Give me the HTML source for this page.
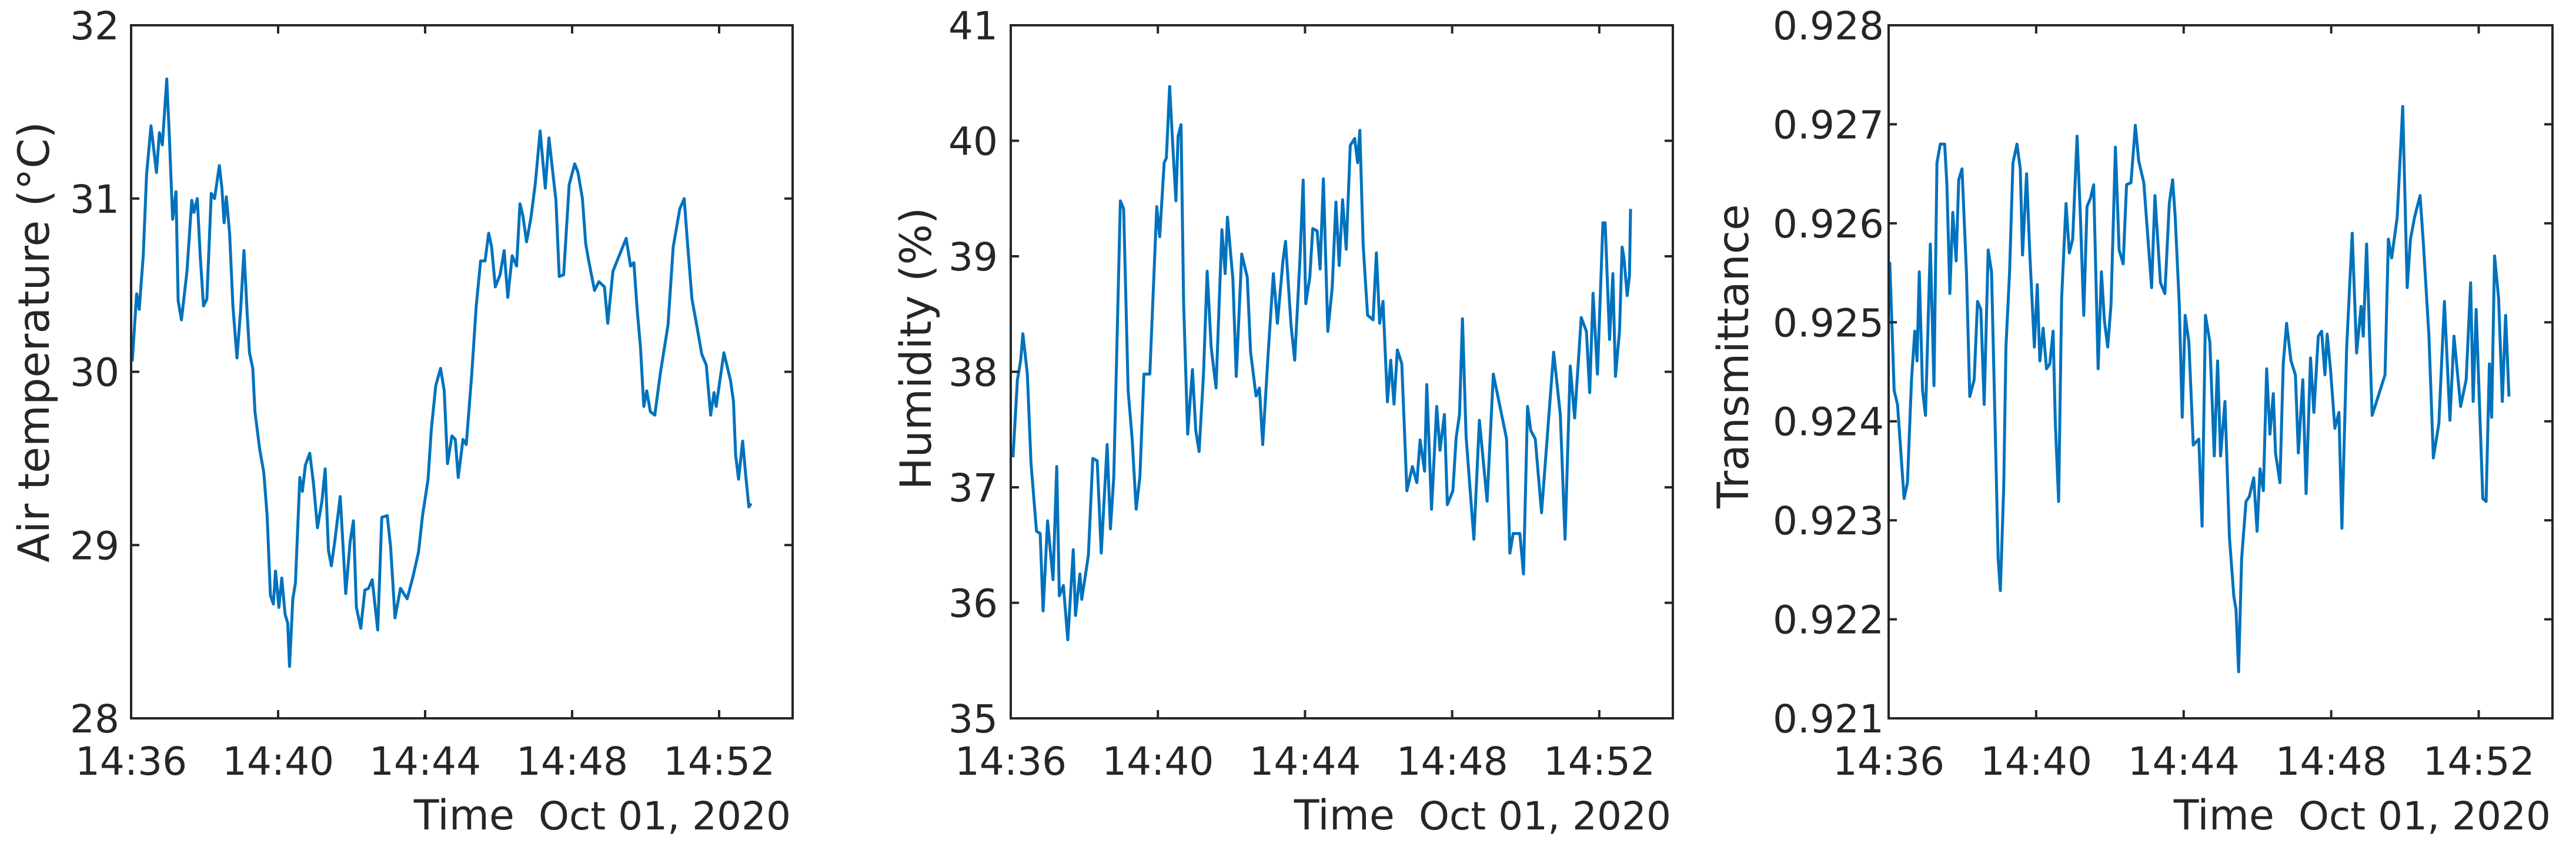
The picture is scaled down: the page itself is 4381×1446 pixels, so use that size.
<!DOCTYPE html>
<html><head><meta charset="utf-8"><style>
html,body{margin:0;padding:0;background:#fff;}
svg{display:block;font-family:"DejaVu Sans","Liberation Sans",sans-serif;}
</style></head><body>
<svg id="chart" width="4381" height="1446" viewBox="0 0 4381 1446" xmlns="http://www.w3.org/2000/svg"></svg>
<script>
// ---- Data (time in minutes after 14:36, values) ----
const xTickLabels = ["14:36","14:40","14:44","14:48","14:52"];
const xTickMinutes = [0,4,8,12,16];

const tempTicks = [28,29,30,31,32];
const tempT = [0.03,0.15,0.22,0.33,0.42,0.54,0.69,0.77,0.85,0.97,1.04,1.13,1.22,1.28,1.37,1.52,1.65,1.71,1.80,1.88,1.97,2.06,2.18,2.27,2.40,2.47,2.53,2.59,2.68,2.77,2.88,2.98,3.07,3.16,3.22,3.31,3.37,3.50,3.61,3.70,3.79,3.87,3.93,4.02,4.10,4.19,4.26,4.31,4.40,4.47,4.59,4.66,4.74,4.86,4.96,5.07,5.19,5.28,5.37,5.45,5.54,5.69,5.84,5.96,6.05,6.13,6.25,6.36,6.46,6.56,6.71,6.82,6.97,7.06,7.18,7.33,7.51,7.66,7.82,7.93,8.08,8.17,8.29,8.42,8.52,8.61,8.73,8.82,8.90,9.03,9.12,9.27,9.39,9.51,9.63,9.73,9.81,9.91,10.04,10.15,10.25,10.37,10.49,10.58,10.66,10.76,10.88,11.00,11.13,11.21,11.27,11.37,11.48,11.56,11.65,11.77,11.92,12.07,12.16,12.28,12.37,12.46,12.61,12.73,12.88,12.97,13.11,13.47,13.59,13.68,13.77,13.86,13.95,14.03,14.13,14.25,14.40,14.61,14.75,14.93,15.05,15.14,15.26,15.38,15.53,15.65,15.77,15.86,15.92,16.13,16.31,16.39,16.45,16.53,16.64,16.73,16.81,16.87];
const tempV = [30.06,30.45,30.36,30.67,31.14,31.42,31.15,31.38,31.31,31.69,31.36,30.88,31.04,30.41,30.30,30.58,30.99,30.92,31.00,30.67,30.38,30.42,31.03,31.00,31.19,31.06,30.86,31.01,30.80,30.38,30.08,30.36,30.70,30.33,30.11,30.02,29.77,29.55,29.42,29.17,28.71,28.66,28.85,28.64,28.81,28.60,28.55,28.30,28.69,28.78,29.39,29.31,29.46,29.53,29.36,29.10,29.25,29.44,28.97,28.88,29.02,29.28,28.72,29.02,29.14,28.64,28.52,28.74,28.75,28.80,28.51,29.16,29.17,28.99,28.58,28.75,28.69,28.81,28.96,29.17,29.38,29.67,29.92,30.02,29.89,29.47,29.63,29.61,29.39,29.61,29.58,29.99,30.38,30.64,30.64,30.80,30.72,30.49,30.56,30.70,30.43,30.67,30.61,30.97,30.90,30.75,30.89,31.09,31.39,31.20,31.06,31.35,31.14,30.99,30.55,30.56,31.08,31.20,31.15,31.00,30.74,30.63,30.47,30.52,30.49,30.28,30.58,30.77,30.61,30.63,30.36,30.14,29.80,29.89,29.77,29.75,29.99,30.27,30.72,30.94,31.00,30.74,30.42,30.28,30.10,30.04,29.75,29.88,29.80,30.11,29.95,29.83,29.52,29.38,29.60,29.39,29.22,29.24];

const humTicks = [35,36,37,38,39,40,41];
const humT = [0.06,0.18,0.27,0.33,0.45,0.55,0.70,0.80,0.88,1.00,1.15,1.25,1.32,1.43,1.55,1.70,1.76,1.88,1.93,2.11,2.23,2.35,2.46,2.62,2.71,2.80,2.98,3.07,3.19,3.30,3.41,3.51,3.62,3.78,3.97,4.05,4.17,4.23,4.32,4.40,4.49,4.55,4.63,4.70,4.81,4.94,5.03,5.12,5.24,5.34,5.45,5.58,5.74,5.83,5.89,6.04,6.13,6.28,6.43,6.52,6.67,6.76,6.85,7.00,7.14,7.25,7.40,7.47,7.62,7.72,7.86,7.95,8.02,8.13,8.21,8.33,8.41,8.50,8.62,8.74,8.84,8.93,9.02,9.12,9.23,9.35,9.43,9.49,9.58,9.70,9.85,9.94,10.03,10.12,10.24,10.33,10.42,10.51,10.63,10.77,10.92,11.04,11.13,11.25,11.31,11.44,11.58,11.67,11.79,11.87,12.02,12.11,12.20,12.28,12.38,12.59,12.74,12.86,12.95,13.12,13.48,13.57,13.66,13.84,13.94,14.05,14.14,14.26,14.43,14.76,14.94,15.07,15.21,15.33,15.51,15.65,15.74,15.83,15.95,16.10,16.16,16.28,16.37,16.44,16.55,16.62,16.67,16.76,16.82,16.85];
const humV = [37.26,37.93,38.10,38.33,37.98,37.21,36.62,36.60,35.93,36.71,36.20,37.18,36.06,36.15,35.68,36.46,35.89,36.25,36.03,36.41,37.25,37.23,36.43,37.37,36.64,37.09,39.48,39.41,37.84,37.42,36.81,37.09,37.98,37.98,39.43,39.17,39.81,39.85,40.47,39.99,39.48,40.04,40.14,38.59,37.46,38.02,37.49,37.31,37.98,38.87,38.21,37.86,39.23,38.85,39.34,38.80,37.96,39.02,38.82,38.17,37.79,37.86,37.37,38.17,38.85,38.42,38.96,39.13,38.40,38.10,38.96,39.66,38.59,38.82,39.24,39.22,38.89,39.67,38.35,38.73,39.47,38.92,39.49,39.06,39.96,40.02,39.81,40.09,39.10,38.49,38.45,39.03,38.42,38.61,37.74,38.10,37.72,38.19,38.07,36.97,37.18,37.04,37.41,37.14,37.89,36.81,37.70,37.32,37.63,36.85,36.97,37.43,37.63,38.46,37.44,36.55,37.58,37.18,36.88,37.98,37.42,36.43,36.60,36.60,36.25,37.70,37.49,37.42,36.78,38.17,37.63,36.55,38.05,37.60,38.47,38.35,37.82,38.68,37.98,39.29,39.29,38.28,38.85,37.96,38.35,39.08,38.99,38.66,38.83,39.41];

const trTicks = [0.921,0.922,0.923,0.924,0.925,0.926,0.927,0.928];
const trT = [0.03,0.15,0.24,0.42,0.51,0.62,0.71,0.77,0.83,0.92,1.00,1.13,1.23,1.31,1.40,1.52,1.58,1.66,1.74,1.83,1.90,1.99,2.11,2.20,2.32,2.41,2.50,2.59,2.70,2.79,2.88,2.97,3.03,3.12,3.18,3.28,3.37,3.48,3.57,3.63,3.74,3.83,3.95,4.03,4.10,4.19,4.28,4.37,4.46,4.52,4.61,4.69,4.81,4.90,4.99,5.11,5.20,5.29,5.38,5.47,5.56,5.68,5.77,5.85,5.94,6.03,6.15,6.25,6.36,6.45,6.57,6.69,6.78,6.92,7.01,7.13,7.22,7.37,7.49,7.61,7.70,7.77,7.88,7.96,8.04,8.14,8.26,8.41,8.50,8.59,8.71,8.83,8.92,9.00,9.12,9.24,9.36,9.42,9.49,9.57,9.69,9.78,9.90,9.99,10.07,10.16,10.25,10.34,10.43,10.49,10.61,10.70,10.79,10.91,11.03,11.11,11.23,11.32,11.44,11.53,11.65,11.74,11.83,11.89,11.98,12.10,12.21,12.29,12.42,12.57,12.69,12.81,12.87,12.96,13.11,13.46,13.55,13.64,13.79,13.94,14.06,14.15,14.26,14.41,14.50,14.65,14.77,14.92,15.07,15.22,15.33,15.51,15.66,15.78,15.85,15.93,16.11,16.20,16.29,16.35,16.43,16.54,16.64,16.73,16.82];
const trV = [0.92561,0.92431,0.92417,0.92322,0.92338,0.92442,0.92491,0.92461,0.92551,0.92431,0.92406,0.92579,0.92436,0.92661,0.92680,0.92680,0.92639,0.92529,0.92611,0.92562,0.92644,0.92655,0.92551,0.92425,0.92442,0.92521,0.92513,0.92417,0.92573,0.92551,0.92409,0.92261,0.92229,0.92333,0.92475,0.92551,0.92661,0.92680,0.92655,0.92568,0.92650,0.92568,0.92475,0.92538,0.92461,0.92494,0.92453,0.92458,0.92491,0.92398,0.92319,0.92524,0.92620,0.92570,0.92584,0.92688,0.92606,0.92507,0.92617,0.92625,0.92639,0.92453,0.92551,0.92502,0.92475,0.92518,0.92677,0.92573,0.92559,0.92639,0.92641,0.92699,0.92663,0.92641,0.92595,0.92535,0.92628,0.92540,0.92529,0.92620,0.92644,0.92606,0.92518,0.92404,0.92507,0.92480,0.92376,0.92382,0.92294,0.92507,0.92480,0.92365,0.92461,0.92365,0.92420,0.92283,0.92223,0.92210,0.92147,0.92261,0.92319,0.92324,0.92343,0.92289,0.92352,0.92330,0.92453,0.92387,0.92428,0.92368,0.92338,0.92458,0.92499,0.92461,0.92447,0.92368,0.92442,0.92327,0.92464,0.92409,0.92486,0.92491,0.92447,0.92488,0.92453,0.92393,0.92409,0.92292,0.92475,0.92590,0.92469,0.92516,0.92486,0.92579,0.92406,0.92447,0.92584,0.92565,0.92606,0.92718,0.92535,0.92584,0.92606,0.92628,0.92579,0.92486,0.92363,0.92398,0.92521,0.92401,0.92486,0.92415,0.92442,0.92540,0.92420,0.92513,0.92322,0.92319,0.92458,0.92404,0.92567,0.92524,0.92420,0.92507,0.92425];

const svg = document.getElementById('chart');
const NS = 'http://www.w3.org/2000/svg';
function mk(tag, attrs, parent){
  const e = document.createElementNS(NS, tag);
  for (const k in attrs) e.setAttribute(k, attrs[k]);
  (parent||svg).appendChild(e);
  return e;
}

const panels = [
  {key:'temperature', L:223, R:1348, ticks:tempTicks, t:tempT, v:tempV, label:'Air temperature (°C)', labX:83, labY:582, tickRight:203, fmt:v=>String(v)},
  {key:'humidity', L:1719, R:2845, ticks:humTicks, t:humT, v:humV, label:'Humidity (%)', labX:1583, labY:593, tickRight:1697, fmt:v=>String(v)},
  {key:'transmittance', L:3212, R:4341, ticks:trTicks, t:trT, v:trV, label:'Transmittance', labX:2973, labY:606, tickRight:3204, fmt:v=>v.toFixed(3)}
];
const T = 43, B = 1222, XMAX = 18, TL = 14;
const ink = '#262626';

panels.forEach(p=>{
  const g = mk('g', {});
  
  
  const ymin = p.ticks[0], ymax = p.ticks[p.ticks.length-1];
  const xs = m => p.L + (m / XMAX) * (p.R - p.L);
  const ys = v => B - (v - ymin) / (ymax - ymin) * (B - T);

  let d = '';
  p.t.forEach((m,i)=>{ d += (i?'L':'M') + xs(m).toFixed(1) + ' ' + ys(p.v[i]).toFixed(1); });
  const line = mk('path', {d:d, fill:'none', stroke:'#0072BD', 'stroke-width':5, 'stroke-linejoin':'round'}, g);
  
  

  const box = mk('rect', {x:p.L, y:T, width:p.R-p.L, height:B-T, fill:'none', stroke:ink, 'stroke-width':4}, g);
  
  

  p.ticks.forEach(v=>{
    const y = ys(v);
    mk('line', {x1:p.L, x2:p.L+TL, y1:y, y2:y, stroke:ink, 'stroke-width':4}, g);
    mk('line', {x1:p.R, x2:p.R-TL, y1:y, y2:y, stroke:ink, 'stroke-width':4}, g);
    const tx = mk('text', {x:p.tickRight, y:y+24, 'text-anchor':'end', 'font-size':66, fill:ink}, g);
    tx.textContent = p.fmt(v);
    
    
  });
  xTickMinutes.forEach((m,i)=>{
    const x = xs(m);
    mk('line', {x1:x, x2:x, y1:B, y2:B-TL, stroke:ink, 'stroke-width':4}, g);
    mk('line', {x1:x, x2:x, y1:T, y2:T+TL, stroke:ink, 'stroke-width':4}, g);
    const tx = mk('text', {x:x, y:1318, 'text-anchor':'middle', 'font-size':66, fill:ink}, g);
    tx.textContent = xTickLabels[i];
    
    
  });
  const xd = mk('text', {x:p.R-3, y:1411, 'text-anchor':'end', 'font-size':66, fill:ink}, g);
  xd.textContent = 'Oct 01, 2020';
  
  
  const xt = mk('text', {x:p.R-473, y:1411, 'text-anchor':'end', 'font-size':70, fill:ink}, g);
  xt.textContent = 'Time';
  
  
  const yt = mk('text', {x:0, y:0, 'text-anchor':'middle', 'font-size':73, fill:ink, transform:`translate(${p.labX},${p.labY}) rotate(-90)`}, g);
  yt.textContent = p.label;
  
  
});
</script>
</body></html>
